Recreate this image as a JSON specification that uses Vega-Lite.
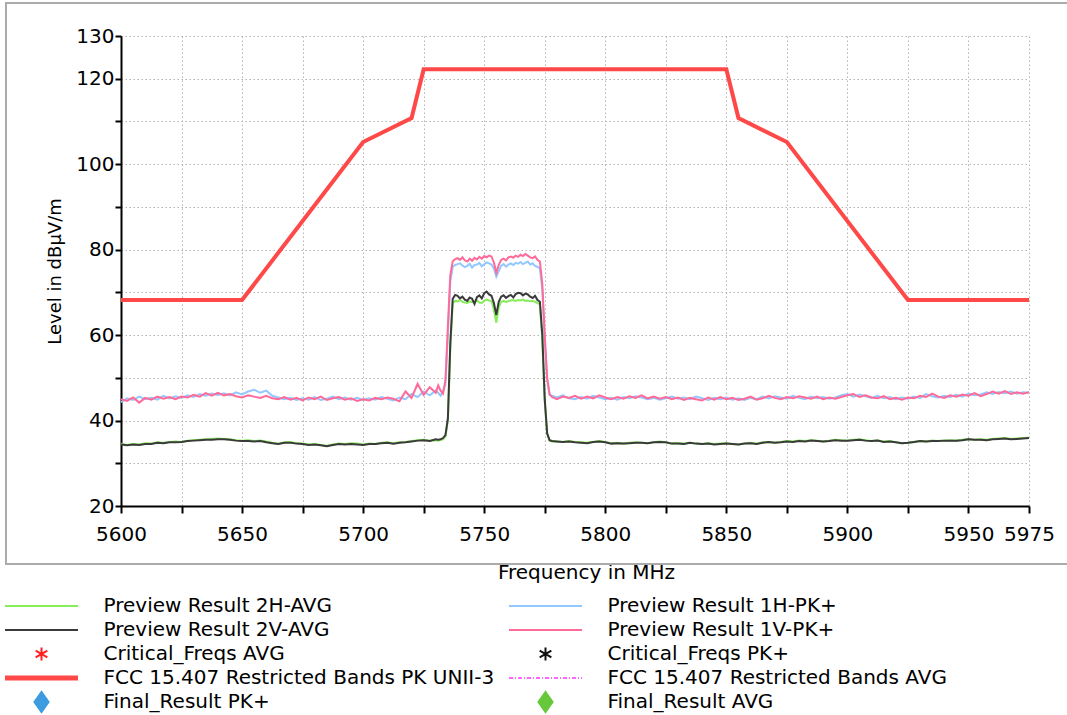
{
  "$schema": "https://vega.github.io/schema/vega-lite/v6.json",
  "width": 908,
  "height": 470,
  "autosize": {"type": "none"},
  "padding": {"left": 121, "top": 36, "right": 38, "bottom": 209},
  "background": "white",
  "config": {"font": "DejaVu Sans", "view": {"stroke": null}},
  "datasets": {
    "trace": [
      {"f":5600,"g":34.6,"k":34.4,"b":44.3,"p":45.0},
      {"f":5602.5,"g":34.3,"k":34.2,"b":45.2,"p":44.6},
      {"f":5605,"g":34.5,"k":34.4,"b":44.8,"p":45.4},
      {"f":5607.5,"g":34.4,"k":34.3,"b":45.6,"p":44.2},
      {"f":5610,"g":34.7,"k":34.5,"b":45.0,"p":45.3},
      {"f":5612.5,"g":34.6,"k":34.5,"b":45.3,"p":44.9},
      {"f":5615,"g":34.9,"k":34.8,"b":44.9,"p":45.6},
      {"f":5617.5,"g":34.8,"k":34.7,"b":45.8,"p":45.1},
      {"f":5620,"g":35.0,"k":34.9,"b":45.2,"p":45.5},
      {"f":5622.5,"g":35.1,"k":34.9,"b":45.7,"p":45.0},
      {"f":5625,"g":35.0,"k":35.0,"b":45.3,"p":45.6},
      {"f":5627.5,"g":35.3,"k":35.2,"b":45.9,"p":45.4},
      {"f":5630,"g":35.4,"k":35.3,"b":45.5,"p":46.0},
      {"f":5632.5,"g":35.5,"k":35.4,"b":46.2,"p":45.6},
      {"f":5635,"g":35.6,"k":35.5,"b":45.8,"p":46.4},
      {"f":5637.5,"g":35.7,"k":35.5,"b":46.3,"p":45.8},
      {"f":5640,"g":35.8,"k":35.6,"b":46.0,"p":46.5},
      {"f":5642.5,"g":35.7,"k":35.6,"b":46.4,"p":45.9},
      {"f":5645,"g":35.6,"k":35.5,"b":45.9,"p":46.2},
      {"f":5647.5,"g":35.4,"k":35.3,"b":46.6,"p":45.7},
      {"f":5650,"g":35.3,"k":35.2,"b":46.1,"p":45.4},
      {"f":5652.5,"g":35.4,"k":35.2,"b":46.8,"p":45.9},
      {"f":5655,"g":35.2,"k":35.1,"b":47.2,"p":45.6},
      {"f":5657.5,"g":35.3,"k":35.2,"b":46.5,"p":45.3},
      {"f":5660,"g":35.1,"k":34.9,"b":47.0,"p":45.8},
      {"f":5662.5,"g":34.8,"k":34.7,"b":45.8,"p":45.2},
      {"f":5665,"g":34.6,"k":34.5,"b":45.4,"p":45.0},
      {"f":5667.5,"g":34.9,"k":34.8,"b":45.0,"p":45.5},
      {"f":5670,"g":35.0,"k":34.8,"b":45.3,"p":44.9},
      {"f":5672.5,"g":34.7,"k":34.6,"b":44.8,"p":45.3},
      {"f":5675,"g":34.6,"k":34.5,"b":45.2,"p":44.7},
      {"f":5677.5,"g":34.4,"k":34.3,"b":44.9,"p":45.4},
      {"f":5680,"g":34.5,"k":34.4,"b":45.5,"p":45.0},
      {"f":5682.5,"g":34.3,"k":34.2,"b":44.8,"p":45.6},
      {"f":5685,"g":34.1,"k":34.0,"b":45.1,"p":44.8},
      {"f":5687.5,"g":34.4,"k":34.3,"b":45.6,"p":45.2},
      {"f":5690,"g":34.6,"k":34.5,"b":45.0,"p":45.5},
      {"f":5692.5,"g":34.5,"k":34.4,"b":45.4,"p":44.9},
      {"f":5695,"g":34.7,"k":34.5,"b":44.9,"p":45.2},
      {"f":5697.5,"g":34.6,"k":34.4,"b":45.3,"p":44.6},
      {"f":5700,"g":34.4,"k":34.3,"b":44.8,"p":45.0},
      {"f":5702.5,"g":34.6,"k":34.5,"b":45.2,"p":44.7},
      {"f":5705,"g":34.5,"k":34.5,"b":44.9,"p":45.3},
      {"f":5707.5,"g":34.8,"k":34.7,"b":45.5,"p":45.0},
      {"f":5710,"g":34.9,"k":34.8,"b":45.1,"p":45.4},
      {"f":5712.5,"g":34.7,"k":34.6,"b":44.7,"p":45.1},
      {"f":5715,"g":34.9,"k":34.8,"b":45.4,"p":44.5},
      {"f":5717.5,"g":35.0,"k":34.9,"b":45.0,"p":46.8},
      {"f":5720,"g":35.2,"k":35.1,"b":46.2,"p":45.3},
      {"f":5722.5,"g":35.4,"k":35.3,"b":45.5,"p":48.6},
      {"f":5725,"g":35.5,"k":35.4,"b":46.8,"p":46.0},
      {"f":5727.5,"g":35.3,"k":35.2,"b":45.9,"p":47.8},
      {"f":5730,"g":35.4,"k":35.6,"b":47.0,"p":46.5},
      {"f":5731,"g":35.3,"k":35.5,"b":46.5,"p":48.2},
      {"f":5732,"g":35.5,"k":35.6,"b":45.8,"p":47.0},
      {"f":5733,"g":35.6,"k":35.9,"b":46.9,"p":46.3},
      {"f":5734,"g":36.3,"k":36.6,"b":48.5,"p":49.5},
      {"f":5735,"g":40.0,"k":40.5,"b":60.0,"p":62.0},
      {"f":5736,"g":57.0,"k":58.0,"b":72.5,"p":74.0},
      {"f":5737,"g":67.5,"k":68.5,"b":76.0,"p":77.3},
      {"f":5738,"g":68.0,"k":69.4,"b":76.4,"p":77.8},
      {"f":5739,"g":67.9,"k":69.2,"b":76.6,"p":78.0},
      {"f":5740,"g":68.2,"k":68.6,"b":76.8,"p":77.6},
      {"f":5741,"g":67.8,"k":69.0,"b":76.3,"p":78.2},
      {"f":5742,"g":67.6,"k":68.3,"b":75.9,"p":77.5},
      {"f":5743,"g":67.5,"k":68.0,"b":76.2,"p":77.2},
      {"f":5744,"g":67.9,"k":68.8,"b":76.7,"p":77.9},
      {"f":5745,"g":67.7,"k":68.5,"b":75.8,"p":77.4},
      {"f":5746,"g":67.8,"k":67.3,"b":76.4,"p":78.1},
      {"f":5747,"g":68.1,"k":68.9,"b":76.5,"p":77.7},
      {"f":5748,"g":67.6,"k":69.3,"b":76.9,"p":78.3},
      {"f":5749,"g":67.5,"k":68.6,"b":76.1,"p":77.9},
      {"f":5750,"g":68.0,"k":69.8,"b":76.6,"p":78.5},
      {"f":5751,"g":68.3,"k":70.2,"b":77.0,"p":78.2},
      {"f":5752,"g":68.1,"k":69.5,"b":76.8,"p":78.6},
      {"f":5753,"g":67.9,"k":69.2,"b":76.5,"p":78.4},
      {"f":5754,"g":66.0,"k":67.5,"b":75.6,"p":77.0},
      {"f":5755,"g":62.9,"k":64.7,"b":73.7,"p":74.6},
      {"f":5756,"g":66.5,"k":67.8,"b":75.0,"p":76.4},
      {"f":5757,"g":67.8,"k":69.0,"b":76.2,"p":77.6},
      {"f":5758,"g":68.0,"k":69.3,"b":76.6,"p":77.9},
      {"f":5759,"g":67.7,"k":68.7,"b":76.0,"p":77.5},
      {"f":5760,"g":68.0,"k":69.1,"b":76.5,"p":78.2},
      {"f":5761,"g":68.1,"k":69.4,"b":76.8,"p":78.4},
      {"f":5762,"g":68.2,"k":68.8,"b":76.4,"p":78.1},
      {"f":5763,"g":68.0,"k":69.6,"b":76.9,"p":78.6},
      {"f":5764,"g":68.2,"k":69.9,"b":76.7,"p":78.3},
      {"f":5765,"g":68.1,"k":69.8,"b":77.1,"p":78.8},
      {"f":5766,"g":68.3,"k":69.3,"b":76.6,"p":78.5},
      {"f":5767,"g":68.0,"k":69.7,"b":76.9,"p":79.0},
      {"f":5768,"g":68.1,"k":69.5,"b":77.2,"p":78.6},
      {"f":5769,"g":67.9,"k":69.0,"b":76.5,"p":78.2},
      {"f":5770,"g":68.0,"k":68.7,"b":76.8,"p":78.0},
      {"f":5771,"g":67.8,"k":69.2,"b":76.2,"p":78.4},
      {"f":5772,"g":67.5,"k":68.2,"b":76.0,"p":77.6},
      {"f":5773,"g":67.2,"k":67.8,"b":75.6,"p":77.2},
      {"f":5774,"g":59.0,"k":60.0,"b":70.5,"p":72.0},
      {"f":5775,"g":44.5,"k":45.0,"b":58.5,"p":60.0},
      {"f":5776,"g":36.8,"k":37.0,"b":49.5,"p":50.0},
      {"f":5777,"g":35.3,"k":35.4,"b":46.0,"p":46.2},
      {"f":5778,"g":35.1,"k":35.2,"b":45.8,"p":45.5},
      {"f":5780,"g":35.1,"k":35.1,"b":45.4,"p":45.0},
      {"f":5782.5,"g":35.0,"k":35.0,"b":45.9,"p":45.6},
      {"f":5785,"g":35.2,"k":35.1,"b":45.2,"p":45.3},
      {"f":5787.5,"g":35.0,"k":34.9,"b":45.0,"p":45.8},
      {"f":5790,"g":34.9,"k":34.8,"b":45.5,"p":45.1},
      {"f":5792.5,"g":34.8,"k":34.7,"b":45.1,"p":45.6},
      {"f":5795,"g":35.0,"k":35.0,"b":45.8,"p":45.2},
      {"f":5797.5,"g":35.2,"k":35.1,"b":45.4,"p":45.9},
      {"f":5800,"g":35.0,"k":34.9,"b":45.0,"p":45.4},
      {"f":5802.5,"g":34.7,"k":34.6,"b":45.3,"p":45.0},
      {"f":5805,"g":34.8,"k":34.7,"b":44.9,"p":45.5},
      {"f":5807.5,"g":34.6,"k":34.6,"b":45.5,"p":45.1},
      {"f":5810,"g":34.8,"k":34.7,"b":45.2,"p":45.7},
      {"f":5812.5,"g":34.9,"k":34.8,"b":45.7,"p":45.3},
      {"f":5815,"g":34.8,"k":34.8,"b":45.4,"p":45.9},
      {"f":5817.5,"g":34.7,"k":34.7,"b":45.0,"p":45.2},
      {"f":5820,"g":34.9,"k":34.9,"b":45.3,"p":45.6},
      {"f":5822.5,"g":35.1,"k":35.0,"b":44.9,"p":45.1},
      {"f":5825,"g":34.9,"k":34.9,"b":45.2,"p":45.5},
      {"f":5827.5,"g":34.6,"k":34.6,"b":45.6,"p":45.0},
      {"f":5830,"g":34.7,"k":34.6,"b":45.1,"p":45.4},
      {"f":5832.5,"g":34.6,"k":34.5,"b":45.4,"p":44.8},
      {"f":5835,"g":34.8,"k":34.8,"b":45.0,"p":45.3},
      {"f":5837.5,"g":34.6,"k":34.6,"b":45.6,"p":45.0},
      {"f":5840,"g":34.5,"k":34.5,"b":45.2,"p":44.7},
      {"f":5842.5,"g":34.7,"k":34.6,"b":44.8,"p":45.4},
      {"f":5845,"g":34.5,"k":34.4,"b":45.3,"p":44.9},
      {"f":5847.5,"g":34.6,"k":34.5,"b":45.0,"p":45.5},
      {"f":5850,"g":34.7,"k":34.6,"b":45.4,"p":45.0},
      {"f":5852.5,"g":34.5,"k":34.5,"b":44.9,"p":45.3},
      {"f":5855,"g":34.4,"k":34.4,"b":45.2,"p":44.8},
      {"f":5857.5,"g":34.6,"k":34.6,"b":44.8,"p":45.1},
      {"f":5860,"g":34.8,"k":34.7,"b":45.3,"p":45.6},
      {"f":5862.5,"g":34.6,"k":34.5,"b":45.0,"p":44.9},
      {"f":5865,"g":34.9,"k":34.8,"b":45.6,"p":45.2},
      {"f":5867.5,"g":35.0,"k":35.0,"b":45.2,"p":45.8},
      {"f":5870,"g":34.8,"k":34.8,"b":45.7,"p":45.3},
      {"f":5872.5,"g":35.0,"k":34.9,"b":45.4,"p":45.0},
      {"f":5875,"g":35.2,"k":35.1,"b":45.1,"p":45.5},
      {"f":5877.5,"g":35.1,"k":35.0,"b":45.8,"p":45.2},
      {"f":5880,"g":35.3,"k":35.2,"b":45.3,"p":45.7},
      {"f":5882.5,"g":35.2,"k":35.1,"b":45.0,"p":45.4},
      {"f":5885,"g":35.4,"k":35.3,"b":45.6,"p":45.1},
      {"f":5887.5,"g":35.3,"k":35.2,"b":45.2,"p":45.6},
      {"f":5890,"g":35.1,"k":35.1,"b":45.5,"p":45.0},
      {"f":5892.5,"g":35.3,"k":35.2,"b":45.1,"p":45.4},
      {"f":5895,"g":35.5,"k":35.4,"b":45.4,"p":45.1},
      {"f":5897.5,"g":35.4,"k":35.3,"b":45.9,"p":45.5},
      {"f":5900,"g":35.3,"k":35.3,"b":46.2,"p":45.9},
      {"f":5902.5,"g":35.5,"k":35.4,"b":45.6,"p":46.2},
      {"f":5905,"g":35.6,"k":35.5,"b":46.1,"p":45.5},
      {"f":5907.5,"g":35.4,"k":35.3,"b":45.7,"p":45.9},
      {"f":5910,"g":35.2,"k":35.2,"b":45.3,"p":45.4},
      {"f":5912.5,"g":35.3,"k":35.3,"b":45.8,"p":45.2},
      {"f":5915,"g":35.1,"k":35.0,"b":45.2,"p":45.7},
      {"f":5917.5,"g":35.2,"k":35.1,"b":45.5,"p":45.0},
      {"f":5920,"g":34.9,"k":34.9,"b":45.0,"p":45.3},
      {"f":5922.5,"g":34.7,"k":34.7,"b":45.4,"p":44.9},
      {"f":5925,"g":34.8,"k":34.8,"b":45.1,"p":45.4},
      {"f":5927.5,"g":35.0,"k":35.0,"b":45.6,"p":45.2},
      {"f":5930,"g":35.2,"k":35.2,"b":45.3,"p":45.8},
      {"f":5932.5,"g":35.1,"k":35.1,"b":46.2,"p":45.5},
      {"f":5935,"g":35.3,"k":35.2,"b":45.7,"p":46.3},
      {"f":5937.5,"g":35.2,"k":35.2,"b":45.4,"p":45.6},
      {"f":5940,"g":35.3,"k":35.3,"b":45.8,"p":45.3},
      {"f":5942.5,"g":35.4,"k":35.3,"b":45.5,"p":45.9},
      {"f":5945,"g":35.3,"k":35.3,"b":46.0,"p":45.6},
      {"f":5947.5,"g":35.5,"k":35.4,"b":45.6,"p":46.1},
      {"f":5950,"g":35.7,"k":35.6,"b":46.3,"p":45.8},
      {"f":5952.5,"g":35.5,"k":35.5,"b":45.9,"p":46.4},
      {"f":5955,"g":35.6,"k":35.5,"b":46.1,"p":45.7},
      {"f":5957.5,"g":35.5,"k":35.4,"b":46.6,"p":46.2},
      {"f":5960,"g":35.7,"k":35.6,"b":46.2,"p":46.8},
      {"f":5962.5,"g":35.8,"k":35.7,"b":46.7,"p":46.3},
      {"f":5965,"g":35.9,"k":35.8,"b":46.4,"p":46.9},
      {"f":5967.5,"g":35.7,"k":35.6,"b":46.8,"p":46.2},
      {"f":5970,"g":35.8,"k":35.7,"b":46.3,"p":46.6},
      {"f":5972.5,"g":35.9,"k":35.8,"b":46.6,"p":46.3},
      {"f":5975,"g":36.0,"k":35.9,"b":46.5,"p":46.6}
    ],
    "limit": [
      {"f":5600,"v":68.2},{"f":5650,"v":68.2},{"f":5700,"v":105.2},{"f":5720,"v":110.8},
      {"f":5725,"v":122.2},{"f":5850,"v":122.2},{"f":5855,"v":110.8},{"f":5875,"v":105.2},
      {"f":5925,"v":68.2},{"f":5975,"v":68.2}
    ]
  },
  "layer": [
    {
      "data": {"values": [{"frame": "panel"}]},
      "mark": {"type": "rect", "fill": null, "stroke": "#ababab", "strokeWidth": 2, "clip": false},
      "encoding": {
        "x": {"datum": 5552.5, "type": "quantitative"},
        "x2": {"datum": 6000},
        "y": {"datum": 137.7, "type": "quantitative"},
        "y2": {"datum": 6.4}
      }
    },
    {
      "data": {"name": "trace"},
      "transform": [{"fold": ["b", "p", "g", "k"], "as": ["s", "v"]}],
      "mark": {"type": "line", "strokeWidth": 2, "clip": true},
      "encoding": {
        "x": {
          "field": "f", "type": "quantitative",
          "scale": {"domain": [5600, 5975], "nice": false, "zero": false},
          "axis": {
            "values": [5600,5625,5650,5675,5700,5725,5750,5775,5800,5825,5850,5875,5900,5925,5950,5975],
            "format": "d",
            "labelExpr": "datum.value % 50 == 0 || datum.value == 5975 ? datum.label : ''",
            "labelFlush": false, "labelOverlap": false,
            "labelFont": "DejaVu Sans", "labelFontSize": 20, "labelColor": "black", "labelPadding": 11,
            "grid": true, "gridColor": "#b4b4b4", "gridDash": [1.5, 2.5], "gridWidth": 1,
            "domainColor": "black", "domainWidth": 2,
            "tickColor": "black", "tickWidth": 2, "tickSize": 7,
            "title": "Frequency in MHz", "titleFont": "DejaVu Sans", "titleFontSize": 20, "titleFontWeight": "normal",
            "titleColor": "black", "titleX": 465, "titleY": 66, "titleAlign": "center", "titleBaseline": "middle",
            "encode": {"ticks": {"update": {"y": {"value": -6}}}}
          }
        },
        "y": {
          "field": "v", "type": "quantitative",
          "scale": {"domain": [20, 130], "nice": false, "zero": false},
          "axis": {
            "values": [20,30,40,50,60,70,80,90,100,110,120,130],
            "labelExpr": "datum.value % 20 == 0 || datum.value == 130 ? datum.label : ''",
            "labelFlush": false, "labelOverlap": false,
            "labelFont": "DejaVu Sans", "labelFontSize": 20, "labelColor": "black", "labelPadding": 1,
            "grid": true, "gridColor": "#b4b4b4", "gridDash": [1.5, 2.5], "gridWidth": 1,
            "domainColor": "black", "domainWidth": 2,
            "tickColor": "black", "tickWidth": 2, "tickSize": 6,
            "title": "Level in dBµV/m", "titleFont": "DejaVu Sans", "titleFontSize": 18, "titleFontWeight": "normal",
            "titleColor": "black", "titleAngle": 270, "titleX": -66, "titleY": 235, "titleAlign": "center", "titleBaseline": "middle",
            "encode": {"ticks": {"update": {"x": {"value": 6}}}}
          }
        },
        "color": {
          "field": "s", "type": "nominal",
          "scale": {
            "domain": ["g", "k", "ca", "l", "fp", "b", "p", "cp", "la", "fa"],
            "range": ["#86ee58", "#3a3a3a", "#ff1f1f", "#ff4848", "#3d9be0", "#92c8ff", "#ff6a98", "#111111", "#ff33ff", "#66c83a"]
          },
          "legend": {
            "orient": "none", "legendX": -116, "legendY": 558, "columns": 2, "title": null,
            "padding": 0, "offset": 0,
            "symbolType": "stroke", "symbolSize": 5329, "symbolOffset": 26.5,
            "clipHeight": 24, "rowPadding": 0, "columnPadding": 14,
            "labelOffset": 52, "labelFont": "DejaVu Sans", "labelFontSize": 20, "labelColor": "black", "labelLimit": 700,
            "labelExpr": "datum.label == 'g' ? 'Preview Result 2H-AVG' : datum.label == 'b' ? 'Preview Result 1H-PK+' : datum.label == 'k' ? 'Preview Result 2V-AVG' : datum.label == 'p' ? 'Preview Result 1V-PK+' : datum.label == 'ca' ? 'Critical_Freqs AVG' : datum.label == 'cp' ? 'Critical_Freqs PK+' : datum.label == 'l' ? 'FCC 15.407 Restricted Bands PK UNII-3' : datum.label == 'la' ? 'FCC 15.407 Restricted Bands AVG' : datum.label == 'fp' ? 'Final_Result PK+' : 'Final_Result AVG'",
            "encode": {
              "symbols": {
                "update": {
                  "shape": {"signal": "datum.value == 'fp' || datum.value == 'fa' ? 'M0,-0.27L0.19,0L0,0.27L-0.19,0Z' : (datum.value == 'ca' || datum.value == 'cp' ? 'M0,-0.18L0,0.18M-0.16,-0.09L0.16,0.09M-0.16,0.09L0.16,-0.09' : 'stroke')"},
                  "fill": {"signal": "datum.value == 'fp' || datum.value == 'fa' ? scale('color', datum.value) : 'transparent'"},
                  "stroke": {"signal": "datum.value == 'fp' || datum.value == 'fa' ? 'transparent' : scale('color', datum.value)"},
                  "strokeWidth": {"signal": "datum.value == 'l' ? 5 : (datum.value == 'ca' || datum.value == 'cp' ? 2 : (datum.value == 'la' ? 1.5 : 2.2))"},
                  "strokeDash": {"signal": "datum.value == 'la' ? [4, 2, 1, 2] : [1, 0]"},
                  "opacity": {"value": 1}
                }
              }
            }
          }
        }
      }
    },
    {
      "data": {"name": "limit"},
      "mark": {"type": "line", "strokeWidth": 4, "clip": true},
      "encoding": {
        "x": {"field": "f", "type": "quantitative"},
        "y": {"field": "v", "type": "quantitative"},
        "color": {"datum": "l"}
      }
    }
  ]
}
